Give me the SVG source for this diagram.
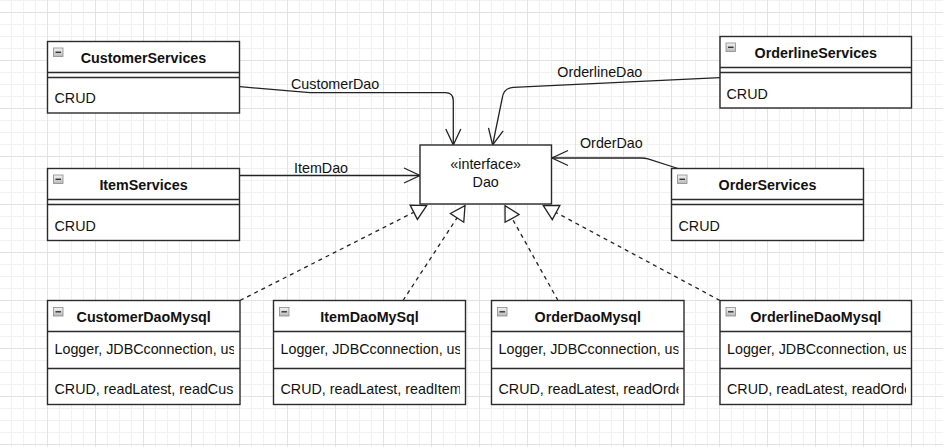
<svg xmlns="http://www.w3.org/2000/svg" width="943" height="447" viewBox="0 0 943 447">
<style>
text{font-family:"Liberation Sans",Arial,Helvetica,sans-serif;font-size:14.3px;fill:#111}
.t{font-weight:bold;text-anchor:middle}
.c{text-anchor:middle}
.box{fill:#fff;stroke:#2b2b2b;stroke-width:1.4}
.ln{stroke:#2b2b2b;stroke-width:1.4;fill:none}
.edge{fill:none;stroke:#222;stroke-width:1.3}
.dash{fill:none;stroke:#222;stroke-width:1.3;stroke-dasharray:4 4}
.ic{fill:url(#ig);stroke:#8a8a8a;stroke-width:0.8}
.icm{stroke:#333;stroke-width:1.4}
</style>
<defs>
<pattern id="grid" patternUnits="userSpaceOnUse" x="0" y="0" width="48" height="48">
<path d="M11.5,0V48M23.5,0V48M35.5,0V48M0,0.5H48M0,24.5H48M0,36.5H48" stroke="#f1f1f1" stroke-width="1" fill="none"/>
<path d="M47.5,0V48M0,12.5H48" stroke="#e2e2e2" stroke-width="1" fill="none"/>
</pattern>
<linearGradient id="ig" x1="0" y1="0" x2="0" y2="1">
<stop offset="0" stop-color="#f4f4f4"/><stop offset="1" stop-color="#b8b8b8"/>
</linearGradient>
<marker id="open" markerUnits="userSpaceOnUse" markerWidth="18" markerHeight="18" refX="16" refY="8" orient="auto" overflow="visible">
<path d="M0,0.5L16,8L0,15.5" fill="none" stroke="#222" stroke-width="1.3"/>
</marker>
<marker id="tri" markerUnits="userSpaceOnUse" markerWidth="18" markerHeight="18" refX="15" refY="8" orient="auto" overflow="visible">
<path d="M0.5,0L15,8L0.5,16Z" fill="#fff" stroke="#222" stroke-width="1.3"/>
</marker>
<clipPath id="c1"><rect x="47.5" y="331.5" width="186.5" height="73"/></clipPath>
<clipPath id="c2"><rect x="273.5" y="331.5" width="186.5" height="73"/></clipPath>
<clipPath id="c3"><rect x="491.5" y="331.5" width="187" height="73"/></clipPath>
<clipPath id="c4"><rect x="720" y="331.5" width="186" height="73"/></clipPath>
</defs>
<rect width="943" height="447" fill="#fff"/>
<rect width="943" height="447" fill="url(#grid)"/>

<g id="connectors">
<path class="edge" d="M240,86.7L310,92.7L445.3,92.7Q453.3,92.7 453.3,100.7L453.3,145" marker-end="url(#open)"/>
<path class="edge" d="M240,175.5L420,175.5" marker-end="url(#open)"/>
<path class="edge" d="M720,77.7L513.3,87.3Q503.5,88 502.3,98L492.6,145" marker-end="url(#open)"/>
<path class="edge" d="M678,168.5L648,158.8Q645,158 641,158L552,158" marker-end="url(#open)"/>
<text x="291" y="89">CustomerDao</text>
<text x="294" y="172.5">ItemDao</text>
<text x="557.3" y="76.7">OrderlineDao</text>
<text x="580" y="148.3">OrderDao</text>
<path class="dash" d="M240,300.5L426.7,205.7" marker-end="url(#tri)"/>
<path class="dash" d="M403,300.5L465,205.7" marker-end="url(#tri)"/>
<path class="dash" d="M558,300.5L505,205.7" marker-end="url(#tri)"/>
<path class="dash" d="M720,300.5L543.3,205.7" marker-end="url(#tri)"/>
</g>

<g id="Dao">
<rect class="box" x="420" y="145" width="131.5" height="59"/>
<text class="c" x="485.7" y="169.3">«interface»</text>
<text class="c" x="485.7" y="187.3">Dao</text>
</g>

<g id="CustomerServices">
<rect class="box" x="47.5" y="41.5" width="192" height="71.5"/>
<path class="ln" d="M47.5,72.5H239.5M47.5,77.5H239.5"/>
<rect class="ic" x="53.5" y="48" width="9.5" height="8.5"/><path class="icm" d="M55.5,52.3H61"/>
<text class="t" x="143.5" y="63.3">CustomerServices</text>
<text x="54.5" y="103.3">CRUD</text>
</g>

<g id="ItemServices">
<rect class="box" x="47.5" y="168.5" width="192" height="72"/>
<path class="ln" d="M47.5,199.5H239.5M47.5,204.5H239.5"/>
<rect class="ic" x="53.5" y="175" width="9.5" height="8.5"/><path class="icm" d="M55.5,179.3H61"/>
<text class="t" x="143.5" y="190">ItemServices</text>
<text x="54.5" y="231">CRUD</text>
</g>

<g id="OrderlineServices">
<rect class="box" x="720" y="36.5" width="191.5" height="71.5"/>
<path class="ln" d="M720,67.5H911.5M720,72.5H911.5"/>
<rect class="ic" x="726" y="43" width="9.5" height="8.5"/><path class="icm" d="M728,47.3H733.5"/>
<text class="t" x="815.8" y="57.8">OrderlineServices</text>
<text x="726.5" y="98.5">CRUD</text>
</g>

<g id="OrderServices">
<rect class="box" x="671.5" y="168.5" width="192" height="72"/>
<path class="ln" d="M671.5,199.5H863.5M671.5,204.5H863.5"/>
<rect class="ic" x="677.5" y="175" width="9.5" height="8.5"/><path class="icm" d="M679.5,179.3H685"/>
<text class="t" x="767.5" y="189.5">OrderServices</text>
<text x="678.5" y="230.5">CRUD</text>
</g>

<g id="CustomerDaoMysql">
<rect class="box" x="47.5" y="300.5" width="192.5" height="104"/>
<path class="ln" d="M47.5,331.5H240M47.5,368.5H240"/>
<rect class="ic" x="53.5" y="307.5" width="9.5" height="8.5"/><path class="icm" d="M55.5,311.8H61"/>
<text class="t" x="143.7" y="322">CustomerDaoMysql</text>
<g clip-path="url(#c1)">
<text x="54.5" y="353.5">Logger, JDBCconnection, us</text>
<text x="54.5" y="393.5">CRUD, readLatest, readCus</text>
</g>
</g>

<g id="ItemDaoMySql">
<rect class="box" x="273.5" y="300.5" width="192" height="104"/>
<path class="ln" d="M273.5,331.5H465.5M273.5,368.5H465.5"/>
<rect class="ic" x="279.5" y="307.5" width="9.5" height="8.5"/><path class="icm" d="M281.5,311.8H287"/>
<text class="t" x="369.5" y="322">ItemDaoMySql</text>
<g clip-path="url(#c2)">
<text x="280.5" y="353.5">Logger, JDBCconnection, us</text>
<text x="280.5" y="393.5">CRUD, readLatest, readItem</text>
</g>
</g>

<g id="OrderDaoMysql">
<rect class="box" x="491.5" y="300.5" width="192.5" height="104"/>
<path class="ln" d="M491.5,331.5H684M491.5,368.5H684"/>
<rect class="ic" x="497.5" y="307.5" width="9.5" height="8.5"/><path class="icm" d="M499.5,311.8H505"/>
<text class="t" x="587.8" y="322">OrderDaoMysql</text>
<g clip-path="url(#c3)">
<text x="498.5" y="353.5">Logger, JDBCconnection, us</text>
<text x="498.5" y="393.5">CRUD, readLatest, readOrde</text>
</g>
</g>

<g id="OrderlineDaoMysql">
<rect class="box" x="720" y="300.5" width="191.5" height="104"/>
<path class="ln" d="M720,331.5H911.5M720,368.5H911.5"/>
<rect class="ic" x="726" y="307.5" width="9.5" height="8.5"/><path class="icm" d="M728,311.8H733.5"/>
<text class="t" x="815.8" y="322">OrderlineDaoMysql</text>
<g clip-path="url(#c4)">
<text x="727" y="353.5">Logger, JDBCconnection, us</text>
<text x="727" y="393.5">CRUD, readLatest, readOrde</text>
</g>
</g>
</svg>
